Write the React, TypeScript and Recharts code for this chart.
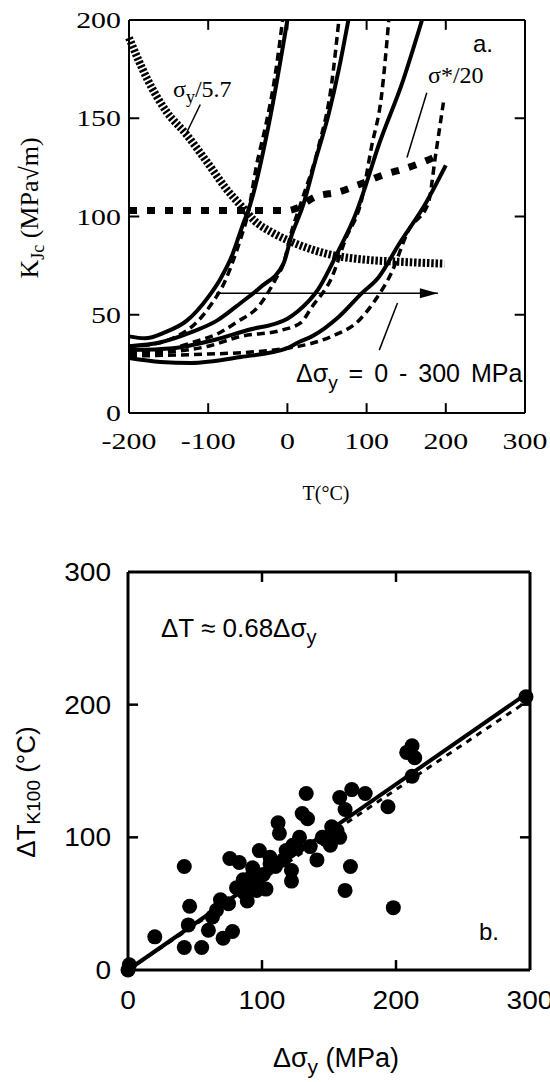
import React from 'react'
import { ComposedChart, Line, Scatter, XAxis, YAxis, ReferenceLine } from 'recharts'

// ---------- panel a: K_Jc against temperature ----------
const tempTicks = [-200, -100, 0, 100, 200, 300]
const kjcTicks = [0, 50, 100, 150, 200]
const tempInnerTicks = [-100, 0, 100, 200]
const kjcInnerTicks = [50, 100, 150]

// solid curves, [T (°C), KJc]
const solidA = [[-200, 39], [-180, 38], [-155, 41], [-127, 47], [-100, 59], [-85, 68], [-70, 80], [-57, 95], [-47, 106], [-21, 152], [0, 200]]
const solidB = [[-200, 34], [-160, 36], [-122, 41], [-89, 47], [-59, 56], [-34, 64], [-5, 76], [5, 90], [20, 106], [35, 128], [52, 152], [65, 175], [77, 200]]
const solidC = [[-200, 32], [-144, 33], [-94, 37], [-52, 42], [0, 48], [14, 52], [39, 63], [65, 83], [86, 101], [99, 116], [115, 136], [145, 168], [170, 200]]
const solidD = [[-200, 28], [-160, 26], [-122, 25.5], [-59, 28.5], [0, 33], [14, 36], [31, 39], [65, 49], [94, 61], [115, 69], [141, 86], [175, 107], [200, 126]]

// dashed curves
const dashA = [[-200, 34], [-170, 35], [-140, 39], [-115, 46], [-95, 56], [-80, 66], [-68, 78], [-58, 90], [-50, 101], [-39, 126], [-27, 147], [-17, 168], [-6, 200]]
const dashB = [[-200, 31], [-157, 32], [-119, 36], [-85, 41], [-65, 46], [-35, 55], [-15, 68], [-5, 76], [5, 92], [18, 108], [39, 135], [56, 168], [65, 200]]
const dashC = [[-200, 30], [-150, 31], [-100, 34], [-59, 39], [-9, 42], [17, 46], [31, 54], [56, 69], [73, 88], [94, 109], [106, 135], [119, 162], [128, 200]]
const dashD = [[-200, 29], [-100, 30], [-46, 31], [0, 33], [31, 35.5], [56, 39], [90, 47], [111, 57.5], [131, 71], [153, 93], [178, 107], [187, 131], [197, 158]]

// sigma_y / 5.7 (hatched) and sigma* / 20 (heavy dashed)
const sigmaY = [[-200, 191], [-177, 170], [-152, 153], [-128, 142], [-102, 128], [-77, 114], [-53, 103], [-42, 98], [-20, 92], [0, 88], [25, 84], [61, 80], [99, 78], [140, 77], [198, 76]]
const sigmaStar = [[-200, 103], [0, 103], [10, 104], [35, 110], [65, 112.5], [89, 116], [120, 121], [153, 125], [176, 128.5], [190, 131]]

const shiftArrow = [[-90, 61], [190, 61]]
const leaderSigmaY = [[-110, 157], [-128, 142]]
const leaderSigmaStar = [[176, 163], [151, 130]]
const leaderShift = [[139, 56], [116, 32]]

// ---------- panel b: shift against yield stress increase ----------
const shiftTicks = [0, 100, 200, 300]
const shiftInnerTicks = [100, 200]

// [Δσy (MPa), ΔT_K100 (°C)]
const measured = [
  [0, 0], [1, 4], [20, 25], [42, 78], [46, 48], [45, 34], [42, 17], [55, 17], [60, 30], [63, 40],
  [69, 53], [71, 24], [78, 29], [76, 84], [83, 81], [81, 62], [89, 52], [93, 77], [96, 60], [103, 61],
  [97, 68], [98, 90], [106, 85], [106, 80], [112, 111], [113, 103], [116, 83], [122, 75], [123, 94], [126, 92],
  [122, 67], [130, 118], [133, 133], [134, 114], [136, 93], [141, 83], [148, 98], [151, 94], [156, 105], [158, 100],
  [166, 78], [162, 60], [198, 47], [194, 123], [158, 130], [167, 136], [177, 133], [162, 121], [208, 164], [212, 169],
  [214, 160], [212, 146], [297, 206], [66, 45], [86, 68], [92, 70], [75, 50], [87, 58], [101, 72], [110, 78],
  [118, 90], [128, 100], [145, 100], [152, 108],
]
const fitSolid = [[0, 0], [300, 210]]
const fitDashed = [[0, 0], [300, 204]]

const serif = '"Liberation Serif", "Times New Roman", Times, serif'
const sans = '"Liberation Sans", Arial, Helvetica, sans-serif'
const ink = '#000'

const asTK = (arr: number[][]) => arr.map(([t, k]) => ({ t, k }))
const asXY = (arr: number[][]) => arr.map(([x, y]) => ({ x, y }))

function makeTick(family: string, size: number, stretch: number, side: 'x' | 'y') {
  return (props: any) => {
    const { x, y, payload } = props
    return (
      <g transform={`translate(${x},${y})`}>
        <text
          transform={`scale(${stretch},1)`}
          textAnchor={side === 'x' ? 'middle' : 'end'}
          dy={side === 'x' ? '0.71em' : '0.35em'}
          fontFamily={family}
          fontSize={size}
          fill={ink}
        >
          {payload.value}
        </text>
      </g>
    )
  }
}

const arrowHead = (props: any) => {
  const { cx, cy, index } = props
  if (index !== shiftArrow.length - 1) return <g key={`ah-${index}`} />
  return <path key="ah" d={`M${cx},${cy} L${cx - 18},${cy - 5} L${cx - 18},${cy + 5} Z`} fill={ink} />
}

const dotShape = (props: any) => <circle cx={props.cx} cy={props.cy} r={7.5} fill={ink} />

function seg(a: number[][], key: string, width = 1.5) {
  return (
    <ReferenceLine
      key={key}
      segment={[{ x: a[0][0], y: a[0][1] }, { x: a[1][0], y: a[1][1] }]}
      stroke={ink}
      strokeWidth={width}
      ifOverflow="visible"
    />
  )
}

function PanelA() {
  const solids = [solidA, solidB, solidC, solidD]
  const dashes = [dashA, dashB, dashC, dashD]
  return (
    <ComposedChart width={550} height={470} margin={{ top: 20, right: 25, bottom: 12, left: 0 }}>
      <XAxis
        type="number" dataKey="t" domain={[-200, 300]} ticks={tempTicks} interval={0} height={45}
        axisLine={{ stroke: ink, strokeWidth: 2 }} tickLine={false} tickSize={0} tickMargin={20}
        tick={makeTick(serif, 23, 1.3, 'x')}
      />
      <YAxis
        type="number" dataKey="k" domain={[0, 200]} ticks={kjcTicks} interval={0} width={129}
        axisLine={{ stroke: ink, strokeWidth: 2 }} tickLine={false} tickSize={0} tickMargin={8}
        tick={makeTick(serif, 23, 1.3, 'y')}
      />
      <ReferenceLine y={200} stroke={ink} strokeWidth={2} ifOverflow="visible" />
      <ReferenceLine x={300} stroke={ink} strokeWidth={2} ifOverflow="visible" />
      {tempInnerTicks.map(t => seg([[t, 0], [t, 5]], `tb${t}`, 2))}
      {tempInnerTicks.map(t => seg([[t, 200], [t, 195]], `tt${t}`, 2))}
      {kjcInnerTicks.map(k => seg([[-200, k], [-187, k]], `tl${k}`, 2))}
      {kjcInnerTicks.map(k => seg([[300, k], [287, k]], `tr${k}`, 2))}

      <Line data={asTK(sigmaY)} dataKey="k" type="monotone" stroke={ink} strokeWidth={8}
        strokeDasharray="2.5 1.8" dot={false} activeDot={false} isAnimationActive={false} />
      <Line data={asTK(sigmaStar)} dataKey="k" type="monotone" stroke={ink} strokeWidth={7}
        strokeDasharray="8 10" dot={false} activeDot={false} isAnimationActive={false} />
      {dashes.map((d, i) => (
        <Line key={`d${i}`} data={asTK(d)} dataKey="k" type="monotone" stroke={ink} strokeWidth={3.5}
          strokeDasharray="8 5" dot={false} activeDot={false} isAnimationActive={false} />
      ))}
      {solids.map((s, i) => (
        <Line key={`s${i}`} data={asTK(s)} dataKey="k" type="monotone" stroke={ink} strokeWidth={4}
          dot={false} activeDot={false} isAnimationActive={false} />
      ))}
      <Line data={asTK(shiftArrow)} dataKey="k" type="linear" stroke={ink} strokeWidth={1.5}
        dot={arrowHead} activeDot={false} isAnimationActive={false} />
      {seg(leaderSigmaY, 'lsy')}
      {seg(leaderSigmaStar, 'lss')}
      {seg(leaderShift, 'lsh')}
    </ComposedChart>
  )
}

function PanelB() {
  return (
    <ComposedChart width={550} height={552} margin={{ top: 42, right: 20, bottom: 52, left: 0 }}>
      <XAxis
        type="number" dataKey="x" domain={[0, 300]} ticks={shiftTicks} interval={0} height={60}
        axisLine={{ stroke: ink, strokeWidth: 3 }} tickLine={false} tickSize={0} tickMargin={21}
        tick={makeTick(sans, 26, 1.08, 'x')}
      />
      <YAxis
        type="number" dataKey="y" domain={[0, 300]} ticks={shiftTicks} interval={0} width={128}
        axisLine={{ stroke: ink, strokeWidth: 3 }} tickLine={false} tickSize={0} tickMargin={17}
        tick={makeTick(sans, 26, 1.08, 'y')}
      />
      <ReferenceLine y={300} stroke={ink} strokeWidth={3} ifOverflow="visible" />
      <ReferenceLine x={300} stroke={ink} strokeWidth={3} ifOverflow="visible" />
      {shiftInnerTicks.map(v => seg([[v, 0], [v, 7.5]], `bb${v}`, 2.5))}
      {shiftInnerTicks.map(v => seg([[v, 300], [v, 292.5]], `bt${v}`, 2.5))}
      {shiftInnerTicks.map(v => seg([[0, v], [7.5, v]], `bl${v}`, 2.5))}
      {shiftInnerTicks.map(v => seg([[300, v], [292.5, v]], `br${v}`, 2.5))}

      <Line data={asXY(fitDashed)} dataKey="y" type="linear" stroke={ink} strokeWidth={3}
        strokeDasharray="6 6" dot={false} activeDot={false} isAnimationActive={false} />
      <Line data={asXY(fitSolid)} dataKey="y" type="linear" stroke={ink} strokeWidth={4}
        dot={false} activeDot={false} isAnimationActive={false} />
      <Scatter data={asXY(measured)} dataKey="y" shape={dotShape} isAnimationActive={false} />
    </ComposedChart>
  )
}

export default function App() {
  return (
    <div style={{ position: 'absolute', left: 0, top: 0, width: 550, height: 1082, background: '#fff', overflow: 'hidden' }}>
      <div style={{ position: 'absolute', left: 0, top: 0 }}>
        <PanelA />
      </div>
      <div style={{ position: 'absolute', left: 0, top: 530 }}>
        <PanelB />
      </div>
      <svg width={550} height={1082} style={{ position: 'absolute', left: 0, top: 0, pointerEvents: 'none' }}>
        {/* panel a texts */}
        <text transform="translate(38,208) rotate(-90)" textAnchor="middle" fontFamily={serif} fontSize={26} fill={ink}>
          K<tspan dy={6} fontSize={18}>Jc</tspan><tspan dy={-6}> (MPa√m)</tspan>
        </text>
        <text x={326} y={500} textAnchor="middle" fontFamily={serif} fontSize={20} fill={ink}>T(°C)</text>
        <text x={173} y={97} fontFamily={serif} fontSize={24} fill={ink}>
          σ<tspan dy={6} fontSize={18}>y</tspan><tspan dy={-6}>/5.7</tspan>
        </text>
        <text x={428} y={83} fontFamily={serif} fontSize={24} fill={ink}>σ*/20</text>
        <text x={473} y={52} fontFamily={sans} fontSize={24} fill={ink}>a.</text>
        <text x={296} y={382} fontFamily={sans} fontSize={25} wordSpacing={4} fill={ink}>
          Δσ<tspan dy={7} fontSize={19}>y</tspan><tspan dy={-7}> = 0 - 300 MPa</tspan>
        </text>

        {/* panel b texts */}
        <text x={161} y={637} fontFamily={sans} fontSize={26} fill={ink}>
          ΔT ≈ 0.68Δσ<tspan dy={7} fontSize={20}>y</tspan>
        </text>
        <text x={479} y={940} fontFamily={sans} fontSize={24} fill={ink}>b.</text>
        <text x={336} y={1067} textAnchor="middle" fontFamily={sans} fontSize={27} fill={ink}>
          Δσ<tspan dy={7} fontSize={21}>y</tspan><tspan dy={-7}> (MPa)</tspan>
        </text>
        <text transform="translate(35,792) rotate(-90)" textAnchor="middle" fontFamily={sans} fontSize={26} fill={ink}>
          ΔT<tspan dy={5} fontSize={19}>K100</tspan><tspan dy={-5}> (°C)</tspan>
        </text>
      </svg>
    </div>
  )
}
